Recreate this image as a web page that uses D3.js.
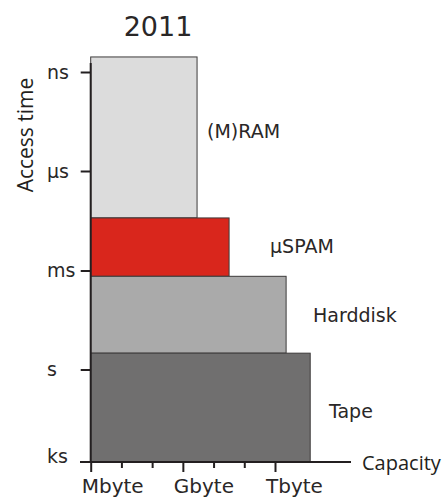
<!DOCTYPE html>
<html>
<head>
<meta charset="utf-8">
<script src="https://cdn.jsdelivr.net/npm/d3@7"></script>
<style>
  html, body { margin: 0; padding: 0; background: #ffffff; }
  svg { display: block; }
</style>
</head>
<body>
<svg id="chart" width="446" height="498"></svg>
<script>
// ---- data ----
const title = "2011";
const tiers = ["(M)RAM", "\u00b5SPAM", "Harddisk", "Tape"];
const fastestTime = [3.5e-10, 2.6e-5, 1.5e-3, 0.32];   // seconds (top edge)
const slowestTime = [2.6e-5, 1.5e-3, 0.32, 1000];      // seconds (bottom edge)
const capacity = [2.9e9, 3.2e10, 2.3e12, 1.4e13];      // bytes
const tierColors = ["#dcdcdc", "#d9261c", "#aaaaaa", "#706f6f"];
const timeTicks = [1e-9, 1e-6, 1e-3, 1, 1e3];
const timeTickLabels = ["ns", "\u00b5s", "ms", "s", "ks"];
const capTicks = [1e6, 1e7, 1e8, 1e9, 1e10, 1e11, 1e12];
const capMajor = [1e6, 1e9, 1e12];
const capTickLabels = ["Mbyte", "Gbyte", "Tbyte"];

// ---- layout ----
const svg = d3.select("#chart");
const geo = "'DejaVu Sans', sans-serif";
const hum = "'Open Sans', 'Lato', sans-serif";
const ink = "#231f20";
const txt = "#2a2727";

const yLog = d3.scaleLinear().domain([-9, -6, -3, 0, 3]).range([72, 171, 270.5, 369.5, 462]);
const y = t => yLog(Math.log10(t));
const x = d3.scaleLog().domain([1e6, 1e12]).range([90.7, 275]);

// bars
const rows = tiers.map((name, i) => ({
  name, top: fastestTime[i], bottom: slowestTime[i], cap: capacity[i], color: tierColors[i]
}));

svg.append("g").selectAll("rect").data(rows).join("rect")
  .attr("x", x(1e6))
  .attr("y", d => y(d.top))
  .attr("width", d => x(d.cap) - x(1e6))
  .attr("height", d => y(d.bottom) - y(d.top))
  .attr("fill", d => d.color)
  .attr("stroke", "#3d3b3b")
  .attr("stroke-width", 1);

// tier labels (position offsets)
const labelX = [207, 270, 313, 329];
const labelDy = [-6, -1, 0, 3];
svg.append("g").selectAll("text").data(rows).join("text")
  .attr("x", (d, i) => labelX[i])
  .attr("y", (d, i) => (y(d.top) + y(d.bottom)) / 2 + labelDy[i])
  .attr("dominant-baseline", "central")
  .attr("font-family", geo)
  .attr("font-size", 19)
  .attr("fill", txt)
  .text(d => d.name);

// y axis
const yAxis = d3.axisLeft(d3.scaleLinear().domain(yLog.domain()).range(yLog.range()))
  .tickValues(timeTicks.slice(0, 4).map(Math.log10))
  .tickSize(10)
  .tickFormat((d, i) => timeTickLabels[i]);
const gy = svg.append("g").attr("transform", "translate(90.7,0)").call(yAxis);
gy.select(".domain").remove();
gy.selectAll(".tick line").attr("stroke", ink).attr("stroke-width", 2);
gy.selectAll(".tick text")
  .attr("x", -43.7).attr("dy", "0.32em")
  .attr("text-anchor", "start")
  .attr("font-family", geo).attr("font-size", 19).attr("fill", txt);
// ks label (at x-axis level)
svg.append("text")
  .attr("x", 47).attr("y", y(timeTicks[4]) + 1)
  .attr("font-family", geo).attr("font-size", 19).attr("fill", txt)
  .text(timeTickLabels[4]);

// axis lines
svg.append("line").attr("x1", 90.7).attr("x2", 90.7).attr("y1", 63).attr("y2", 463)
  .attr("stroke", ink).attr("stroke-width", 2);
svg.append("line").attr("x1", 80).attr("x2", 351).attr("y1", 462).attr("y2", 462)
  .attr("stroke", ink).attr("stroke-width", 2);

// x axis ticks
const xAxis = d3.axisBottom(x).tickValues(capTicks).tickSizeInner(0).tickFormat("");
const gx = svg.append("g").attr("transform", "translate(0,462)").call(xAxis);
gx.select(".domain").remove();
gx.selectAll(".tick line")
  .attr("y2", d => capMajor.includes(d) ? 10 : 6)
  .attr("stroke", ink).attr("stroke-width", 2);
svg.append("g").selectAll("text").data(capMajor).join("text")
  .attr("x", d => x(d) - 9)
  .attr("y", 493)
  .attr("font-family", geo).attr("font-size", 20).attr("fill", txt)
  .text((d, i) => capTickLabels[i]);

// axis titles
svg.append("text").attr("x", 362).attr("y", 470)
  .attr("font-family", hum).attr("font-size", 20).attr("fill", ink)
  .text("Capacity");
svg.append("text")
  .attr("transform", "translate(33,135) rotate(-90)")
  .attr("text-anchor", "middle")
  .attr("font-family", hum).attr("font-size", 21).attr("fill", ink)
  .text("Access time");

// title
svg.append("text").attr("x", 158).attr("y", 36)
  .attr("text-anchor", "middle")
  .attr("font-family", geo).attr("font-size", 27).attr("fill", txt)
  .text(title);
</script>
</body>
</html>
